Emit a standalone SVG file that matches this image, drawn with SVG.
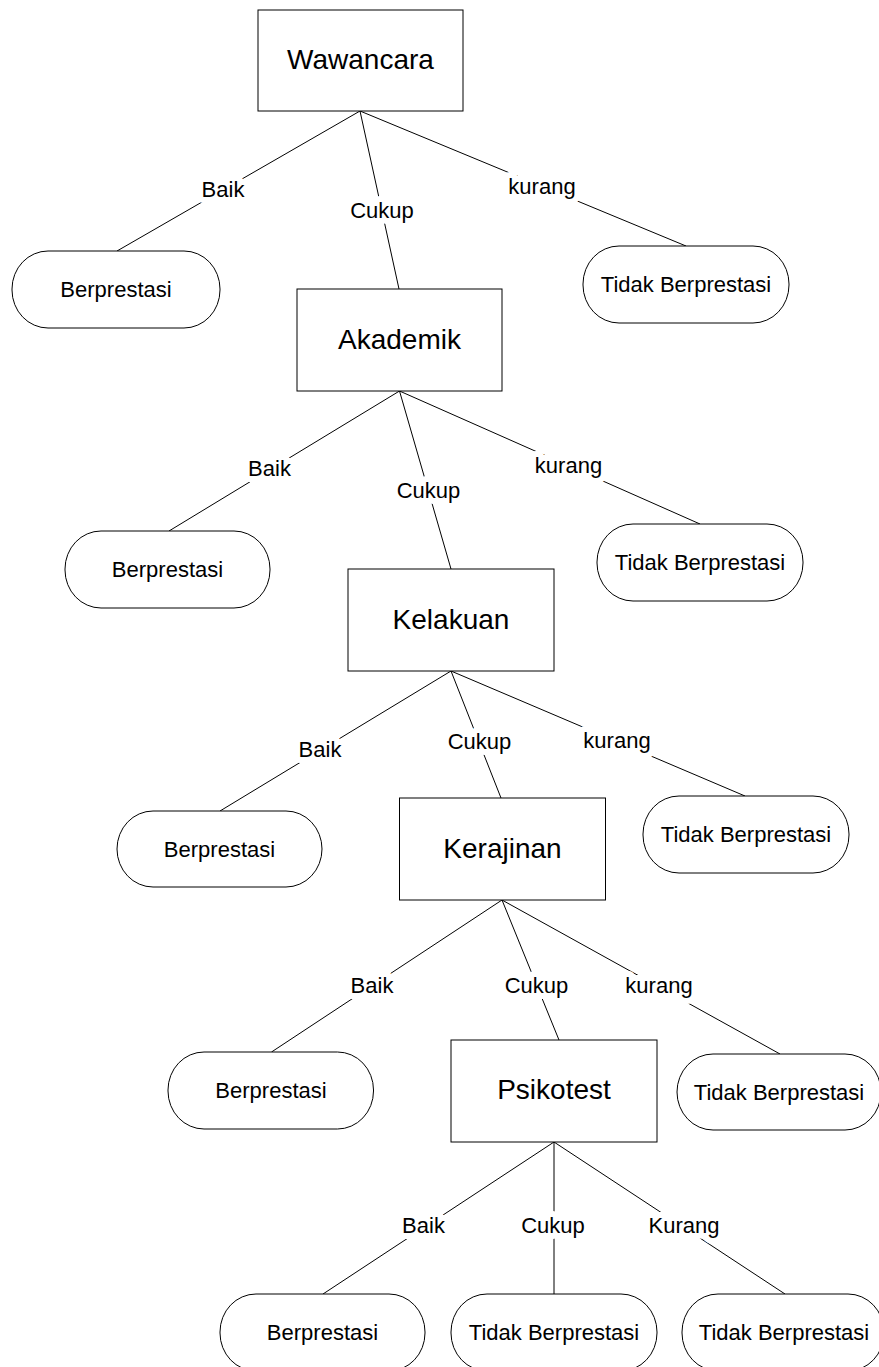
<svg xmlns="http://www.w3.org/2000/svg" width="879" height="1367" viewBox="0 0 879 1367">
  <style>
    .box { fill: #fff; stroke: #000; stroke-width: 1; }
    .leaf { fill: #fff; stroke: #000; stroke-width: 1; }
    .title { font-family: "Liberation Sans", Arial, sans-serif; font-size: 28px; fill: #000; text-anchor: middle; }
    .leaftxt { font-family: "Liberation Sans", Arial, sans-serif; font-size: 22px; fill: #000; text-anchor: middle; }
    .edge { stroke: #000; stroke-width: 1; fill: none; }
    .lbl { font-family: "Liberation Sans", Arial, sans-serif; font-size: 22px; fill: #000; text-anchor: middle;
           stroke: #fff; stroke-width: 12; stroke-linejoin: round; paint-order: stroke fill; }
  </style>
  <rect width="879" height="1367" fill="#fff"/>

  <!-- decision branches -->
  <g id="connectors">
    <line class="edge" x1="360" y1="111" x2="117" y2="251"/>
    <line class="edge" x1="360" y1="111" x2="399" y2="289"/>
    <line class="edge" x1="360" y1="111" x2="686" y2="246"/>

    <line class="edge" x1="399.5" y1="391" x2="169" y2="531"/>
    <line class="edge" x1="399.5" y1="391" x2="451" y2="569"/>
    <line class="edge" x1="399.5" y1="391" x2="700" y2="524"/>

    <line class="edge" x1="451" y1="671" x2="220" y2="811"/>
    <line class="edge" x1="451" y1="671" x2="501" y2="798"/>
    <line class="edge" x1="451" y1="671" x2="745" y2="796"/>

    <line class="edge" x1="502" y1="900" x2="271.5" y2="1052"/>
    <line class="edge" x1="502" y1="900" x2="559" y2="1040"/>
    <line class="edge" x1="502" y1="900" x2="780" y2="1054"/>

    <line class="edge" x1="554" y1="1142" x2="323" y2="1294"/>
    <line class="edge" x1="554" y1="1142" x2="554" y2="1294"/>
    <line class="edge" x1="554" y1="1142" x2="785" y2="1294"/>

    <text class="lbl" x="223" y="197">Baik</text>
    <text class="lbl" x="382" y="218">Cukup</text>
    <text class="lbl" x="542" y="194">kurang</text>

    <text class="lbl" x="269.5" y="476">Baik</text>
    <text class="lbl" x="428.5" y="498">Cukup</text>
    <text class="lbl" x="568.5" y="473">kurang</text>

    <text class="lbl" x="320" y="757">Baik</text>
    <text class="lbl" x="479.5" y="749">Cukup</text>
    <text class="lbl" x="617" y="748">kurang</text>

    <text class="lbl" x="372" y="993">Baik</text>
    <text class="lbl" x="536.5" y="993">Cukup</text>
    <text class="lbl" x="659" y="993">kurang</text>

    <text class="lbl" x="423.5" y="1233">Baik</text>
    <text class="lbl" x="553" y="1233">Cukup</text>
    <text class="lbl" x="684" y="1233">Kurang</text>
  </g>

  <!-- criteria -->
  <g id="wawancara">
    <rect class="box" x="258" y="10" width="205" height="101"/>
    <text class="title" x="360.5" y="69">Wawancara</text>
  </g>
  <g id="akademik">
    <rect class="box" x="297" y="289" width="205" height="102"/>
    <text class="title" x="399.5" y="349">Akademik</text>
  </g>
  <g id="kelakuan">
    <rect class="box" x="348" y="569" width="206" height="102"/>
    <text class="title" x="451" y="629">Kelakuan</text>
  </g>
  <g id="kerajinan">
    <rect class="box" x="399.5" y="798" width="206" height="102"/>
    <text class="title" x="502.5" y="858">Kerajinan</text>
  </g>
  <g id="psikotest">
    <rect class="box" x="451" y="1040" width="206" height="102"/>
    <text class="title" x="554" y="1099">Psikotest</text>
  </g>

  <!-- outcomes -->
  <g id="berprestasi-1">
    <rect class="leaf" x="12" y="251" width="208" height="77" rx="36" ry="38"/>
    <text class="leaftxt" x="116" y="297">Berprestasi</text>
  </g>
  <g id="tidak-1">
    <rect class="leaf" x="583" y="246" width="206" height="77" rx="36" ry="38"/>
    <text class="leaftxt" x="686" y="292">Tidak Berprestasi</text>
  </g>
  <g id="berprestasi-2">
    <rect class="leaf" x="65" y="531" width="205" height="77" rx="36" ry="38"/>
    <text class="leaftxt" x="167.5" y="577">Berprestasi</text>
  </g>
  <g id="tidak-2">
    <rect class="leaf" x="597" y="524" width="206" height="77" rx="36" ry="38"/>
    <text class="leaftxt" x="700" y="570">Tidak Berprestasi</text>
  </g>
  <g id="berprestasi-3">
    <rect class="leaf" x="117" y="811" width="205" height="76" rx="36" ry="38"/>
    <text class="leaftxt" x="219.5" y="857">Berprestasi</text>
  </g>
  <g id="tidak-3">
    <rect class="leaf" x="643" y="796" width="206" height="77" rx="36" ry="38"/>
    <text class="leaftxt" x="746" y="842">Tidak Berprestasi</text>
  </g>
  <g id="berprestasi-4">
    <rect class="leaf" x="168" y="1052" width="205.5" height="77" rx="36" ry="38"/>
    <text class="leaftxt" x="271" y="1098">Berprestasi</text>
  </g>
  <g id="tidak-4">
    <rect class="leaf" x="677" y="1054" width="204" height="76" rx="36" ry="38"/>
    <text class="leaftxt" x="779" y="1100">Tidak Berprestasi</text>
  </g>
  <g id="berprestasi-5">
    <rect class="leaf" x="220" y="1294" width="205" height="77" rx="36" ry="38"/>
    <text class="leaftxt" x="322.5" y="1340">Berprestasi</text>
  </g>
  <g id="tidak-5a">
    <rect class="leaf" x="451" y="1294" width="206" height="77" rx="36" ry="38"/>
    <text class="leaftxt" x="554" y="1340">Tidak Berprestasi</text>
  </g>
  <g id="tidak-5b">
    <rect class="leaf" x="682" y="1294" width="202" height="77" rx="36" ry="38"/>
    <text class="leaftxt" x="784" y="1340">Tidak Berprestasi</text>
  </g>
</svg>
